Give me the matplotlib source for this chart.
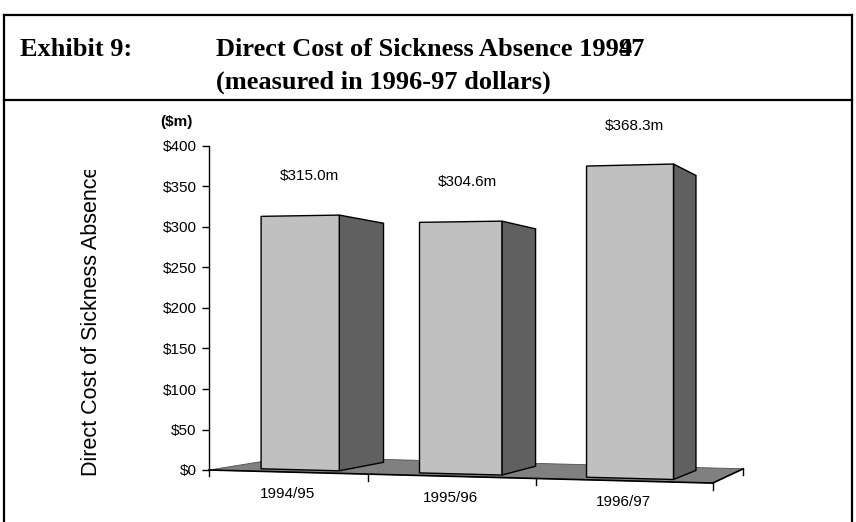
import matplotlib
matplotlib.use("Agg")
import matplotlib.pyplot as plt
from matplotlib.patches import Polygon
from matplotlib.lines import Line2D
from matplotlib.text import Annotation
from matplotlib.transforms import Bbox

# --- data ---
years = ["1994/95", "1995/96", "1996/97"]
cost_m = [315.0, 304.6, 368.3]
y_ticks = [0, 50, 100, 150, 200, 250, 300, 350, 400]

W, H = 856, 522

# --- 3-D projection of (category, value, depth) into axes data units ---
K = 0.0256            # front plane recedes towards the left
XS = 0.9226
HORIZON = 194.0
VP = (4.82, 160.5)    # vanishing point of the depth direction
DEPTH_SHRINK = 0.10
BAR_Z = (0.17, 0.81)  # bar front / back depth on the floor
BAR_HALF = 0.25


def proj(c, v, z=0.0):
    n = 1.0 / (1.0 - K * c)
    x0 = XS * c * n
    y0 = HORIZON + (v - HORIZON) * n
    s = 1.0 - DEPTH_SHRINK * z
    return (VP[0] + (x0 - VP[0]) * s, VP[1] + (y0 - VP[1]) * s)


def fx(px):
    return px / W


def fy(py):
    return 1 - py / H


fig = plt.figure(figsize=(W / 100, H / 100), dpi=100)
fig.patch.set_facecolor("white")

# frame around the exhibit
for xs, ys in [((4, 852), (15, 15)), ((4, 4), (15, 522)), ((852, 852), (15, 522)),
               ((4, 852), (100, 100))]:
    fig.add_artist(Line2D([fx(x) for x in xs], [fy(y) for y in ys],
                          color="black", lw=1.6, transform=fig.transFigure))

title_font = dict(family="Liberation Serif", weight="bold", fontsize=19)
fig.text(fx(20), fy(56), "Exhibit 9:", va="baseline", **title_font)
t1 = fig.text(fx(216), fy(56), "Direct Cost of Sickness Absence 1994",
              va="baseline", **title_font)
fig.text(fx(216), fy(89), "(measured in 1996-97 dollars)", va="baseline", **title_font)
# the "97" overprints the last digit in the original layout
ann = Annotation("97", xy=(1, 0), xycoords=t1, xytext=(-10, 0),
                 textcoords="offset points", ha="left", va="bottom",
                 annotation_clip=False, **title_font)
fig.add_artist(ann)

# --- axes: y in $m, x in category units ---
ax = fig.add_axes([fx(209), fy(470), fx(713) - fx(209), fy(146) - fy(470)])
ax.set_xlim(0, 3)
ax.set_ylim(0, 400)
ax.patch.set_alpha(0)
for side in ["top", "right", "bottom"]:
    ax.spines[side].set_visible(False)
ax.spines["left"].set_linewidth(1.0)
ax.set_xticks([])
ax.set_yticks(y_ticks)
ax.set_yticklabels([f"${t}" for t in y_ticks], family="Liberation Sans", fontsize=11)
ax.tick_params(axis="y", direction="out", length=5, width=1.0, pad=4)

# floor
floor = [proj(0, 0, 0), proj(3, 0, 0), proj(3, 0, 1), proj(0, 0, 1)]
ax.add_patch(Polygon(floor, closed=True, facecolor="#808080", edgecolor="#505050",
                     lw=0.6, clip_on=False, zorder=1))
front = [proj(0, 0, 0), proj(3, 0, 0), proj(3, 0, 1)]
ax.plot([p[0] for p in front], [p[1] for p in front], color="black", lw=1.2,
        clip_on=False, zorder=2)

# category ticks along the front edge, plus one at the back corner
for c in range(len(years) + 1):
    x, y = proj(c, 0, 0)
    ax.plot([x, x], [y, y - 8], color="black", lw=1.0, clip_on=False, zorder=2)
xb, yb = proj(3, 0, 1)
ax.plot([xb, xb], [yb, yb - 8], color="black", lw=1.0, clip_on=False, zorder=2)

# bars
for i, (yr, v) in enumerate(zip(years, cost_m)):
    c0, c1 = i + 0.5 - BAR_HALF, i + 0.5 + BAR_HALF
    z0, z1 = BAR_Z
    side = [proj(c1, 0, z0), proj(c1, 0, z1), proj(c1, v, z1), proj(c1, v, z0)]
    face = [proj(c0, 0, z0), proj(c1, 0, z0), proj(c1, v, z0), proj(c0, v, z0)]
    ax.add_patch(Polygon(side, closed=True, facecolor="#606060", edgecolor="black",
                         lw=1.0, clip_on=False, zorder=3))
    ax.add_patch(Polygon(face, closed=True, facecolor="#c0c0c0", edgecolor="black",
                         lw=1.0, clip_on=False, zorder=4))
    lx, ly = proj(i + 0.5, v, 0.3)
    ax.annotate(f"${v:.1f}m", xy=(lx, ly), xytext=(0, 30), textcoords="offset points",
                ha="center", va="center", family="Liberation Sans", fontsize=11,
                annotation_clip=False)
    tx, ty = proj(i + 0.5, 0, 0)
    ax.annotate(yr, xy=(tx, ty), xytext=(0, -15.5), textcoords="offset points",
                ha="center", va="center", family="Liberation Sans", fontsize=11,
                annotation_clip=False)

ax.annotate("($m)", xy=(0, 400), xytext=(-12, 17), textcoords="offset points",
            ha="right", va="center", family="Liberation Sans", fontsize=11,
            weight="bold", annotation_clip=False)

# axis title, cut off at the top like the original
ylab = fig.text(fx(92), fy(476), "Direct Cost of Sickness Absence", rotation=90,
                ha="center", va="bottom", family="Liberation Sans", fontsize=15.5)
ylab.set_clip_box(Bbox.from_extents(0, 0, W, H - 170))
ylab.set_clip_on(True)

fig.savefig("out.png", dpi=100)
